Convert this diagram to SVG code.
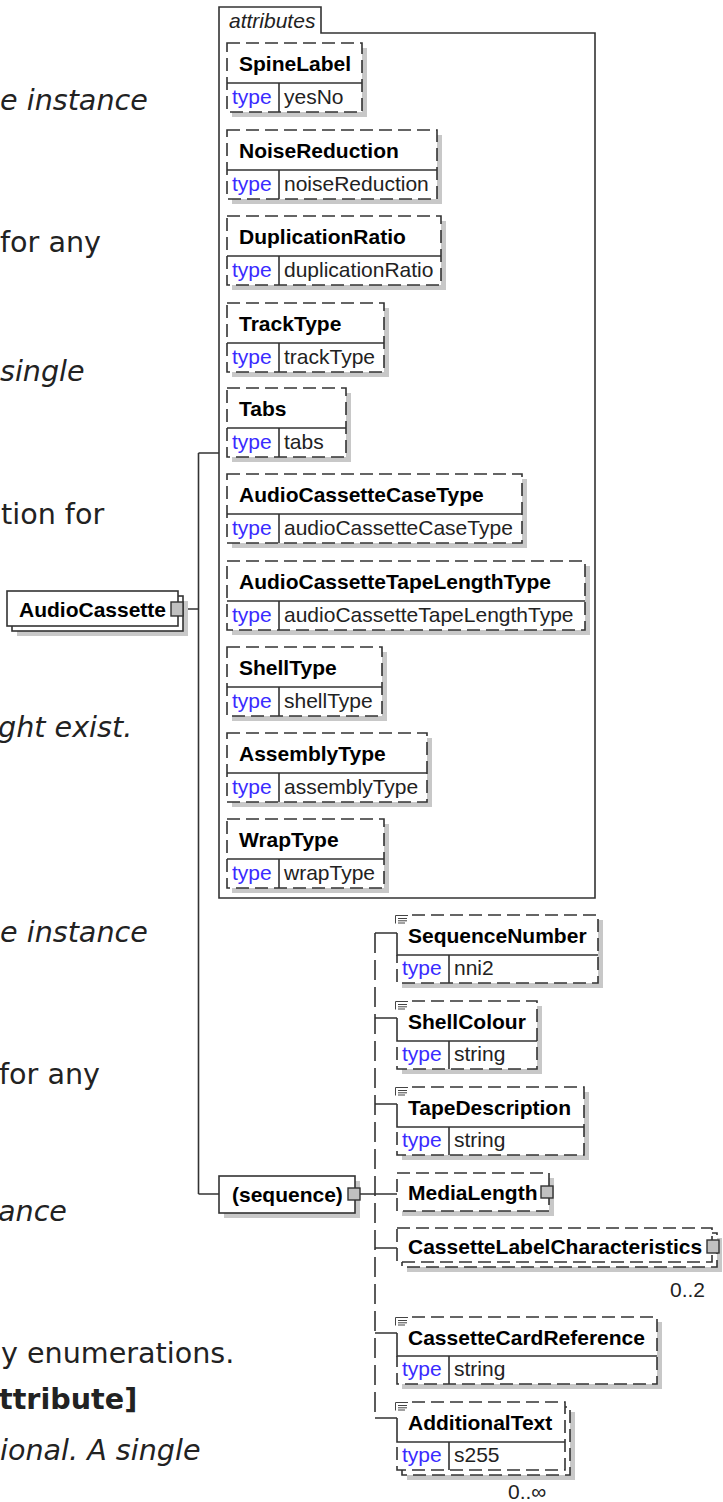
<svg xmlns="http://www.w3.org/2000/svg" width="723" height="1502" viewBox="0 0 723 1502">
<style>
.bg{fill:#fff}
.ln{fill:none;stroke:#333;stroke-width:1.6}
.ds{stroke-dasharray:13 6}
.vd{fill:none;stroke:#333;stroke-width:1.6;stroke-dasharray:20 7}
.bx{fill:#fff;stroke:#333;stroke-width:1.6}
.sh{fill:#c8c8c8}
.pl{fill:#c0c0c0;stroke:#333;stroke-width:1.4}
.nm{font-family:"Liberation Sans",Arial,sans-serif;font-size:21px;font-weight:bold;fill:#000}
.ty{font-family:"Liberation Sans",Arial,sans-serif;font-size:21px;fill:#3a2bff}
.tv{font-family:"Liberation Sans",Arial,sans-serif;font-size:21px;fill:#222}
.oc{font-family:"Liberation Sans",Arial,sans-serif;font-size:21px;fill:#222}
.at{font-family:"Liberation Sans",Arial,sans-serif;font-size:21px;font-style:italic;fill:#222}
.pg{font-family:"DejaVu Sans",Verdana,sans-serif;font-size:28.6px;fill:#222}
.it{font-style:italic}
.bd{font-weight:bold}
.ic{fill:none;stroke:#444;stroke-width:1}
</style>

<g id="page-text">
<text class="pg it" x="0" y="110">e instance</text>
<text class="pg" x="0" y="252">for any</text>
<text class="pg it" x="0" y="381">single</text>
<text class="pg" x="1" y="524">tion for</text>
<text class="pg it" x="-2" y="737">ght exist.</text>
<text class="pg it" x="0" y="942">e instance</text>
<text class="pg" x="-1" y="1084">for any</text>
<text class="pg it" x="-2" y="1221">ance</text>
<text class="pg" x="1" y="1363">y enumerations.</text>
<text class="pg bd" x="-1" y="1409">ttribute]</text>
<text class="pg it" x="0" y="1460">ional. A single</text>
</g>

<g id="connectors">
<path class="ln" d="M183,609 H198.5 M198.5,453 V1194 M198.5,453 H219 M198.5,1194 H219"/>
<path class="ln" d="M360,1194 H397"/>
<path class="vd" d="M375,933 V1418"/>
<path class="ln" d="M375,933 H397 M375,1018 H397 M375,1104 H397 M375,1248 H397 M375,1333 H397 M375,1418 H397"/>
</g>

<g id="AudioCassette">
<rect class="sh" x="17" y="601" width="171" height="35"/>
<rect class="bx" x="12" y="596" width="171" height="35"/>
<rect class="bx" x="7" y="591" width="171" height="35"/>
<text class="nm" x="19" y="617">AudioCassette</text>
<rect class="pl" x="171" y="602" width="12" height="14"/>
</g>

<g id="attributes">
<path class="ln" d="M219,898 V7 H321 V33 H595 V898 Z"/>
<text class="at" x="229" y="28">attributes</text>
</g>

<g id="attr-SpineLabel">
<rect class="sh" x="232" y="48" width="135" height="69"/>
<rect class="bx ds" x="227" y="43" width="135" height="69"/>
<path class="ln" d="M227,83 H362 M279,83 V112"/>
<text class="nm" x="239" y="71">SpineLabel</text>
<text class="ty" x="232" y="104">type</text><text class="tv" x="284" y="104">yesNo</text>
</g>

<g id="attr-NoiseReduction">
<rect class="sh" x="232" y="135" width="210" height="69"/>
<rect class="bx ds" x="227" y="130" width="210" height="69"/>
<path class="ln" d="M227,170 H437 M279,170 V199"/>
<text class="nm" x="239" y="158">NoiseReduction</text>
<text class="ty" x="232" y="191">type</text><text class="tv" x="284" y="191">noiseReduction</text>
</g>

<g id="attr-DuplicationRatio">
<rect class="sh" x="232" y="221" width="214" height="69"/>
<rect class="bx ds" x="227" y="216" width="214" height="69"/>
<path class="ln" d="M227,256 H441 M279,256 V285"/>
<text class="nm" x="239" y="244">DuplicationRatio</text>
<text class="ty" x="232" y="277">type</text><text class="tv" x="284" y="277">duplicationRatio</text>
</g>

<g id="attr-TrackType">
<rect class="sh" x="232" y="308" width="157" height="69"/>
<rect class="bx ds" x="227" y="303" width="157" height="69"/>
<path class="ln" d="M227,343 H384 M279,343 V372"/>
<text class="nm" x="239" y="331">TrackType</text>
<text class="ty" x="232" y="364">type</text><text class="tv" x="284" y="364">trackType</text>
</g>

<g id="attr-Tabs">
<rect class="sh" x="232" y="393" width="119" height="69"/>
<rect class="bx ds" x="227" y="388" width="119" height="69"/>
<path class="ln" d="M227,428 H346 M279,428 V457"/>
<text class="nm" x="239" y="416">Tabs</text>
<text class="ty" x="232" y="449">type</text><text class="tv" x="284" y="449">tabs</text>
</g>

<g id="attr-AudioCassetteCaseType">
<rect class="sh" x="232" y="479" width="295" height="69"/>
<rect class="bx ds" x="227" y="474" width="295" height="69"/>
<path class="ln" d="M227,514 H522 M279,514 V543"/>
<text class="nm" x="239" y="502">AudioCassetteCaseType</text>
<text class="ty" x="232" y="535">type</text><text class="tv" x="284" y="535">audioCassetteCaseType</text>
</g>

<g id="attr-AudioCassetteTapeLengthType">
<rect class="sh" x="232" y="566" width="358" height="69"/>
<rect class="bx ds" x="227" y="561" width="358" height="69"/>
<path class="ln" d="M227,601 H585 M279,601 V630"/>
<text class="nm" x="239" y="589">AudioCassetteTapeLengthType</text>
<text class="ty" x="232" y="622">type</text><text class="tv" x="284" y="622">audioCassetteTapeLengthType</text>
</g>

<g id="attr-ShellType">
<rect class="sh" x="232" y="652" width="155" height="69"/>
<rect class="bx ds" x="227" y="647" width="155" height="69"/>
<path class="ln" d="M227,687 H382 M279,687 V716"/>
<text class="nm" x="239" y="675">ShellType</text>
<text class="ty" x="232" y="708">type</text><text class="tv" x="284" y="708">shellType</text>
</g>

<g id="attr-AssemblyType">
<rect class="sh" x="232" y="738" width="200" height="69"/>
<rect class="bx ds" x="227" y="733" width="200" height="69"/>
<path class="ln" d="M227,773 H427 M279,773 V802"/>
<text class="nm" x="239" y="761">AssemblyType</text>
<text class="ty" x="232" y="794">type</text><text class="tv" x="284" y="794">assemblyType</text>
</g>

<g id="attr-WrapType">
<rect class="sh" x="232" y="824" width="157" height="69"/>
<rect class="bx ds" x="227" y="819" width="157" height="69"/>
<path class="ln" d="M227,859 H384 M279,859 V888"/>
<text class="nm" x="239" y="847">WrapType</text>
<text class="ty" x="232" y="880">type</text><text class="tv" x="284" y="880">wrapType</text>
</g>

<g id="sequence">
<rect class="sh" x="224" y="1181" width="136" height="37"/>
<rect class="bx" x="219" y="1176" width="136" height="37"/>
<text class="nm" x="232" y="1202">(sequence)</text>
<rect class="pl" x="348" y="1188" width="12" height="12"/>
</g>

<g id="el-SequenceNumber">
<rect class="sh" x="402" y="920" width="201" height="68"/>
<rect class="bg" x="397" y="915" width="201" height="68"/>
<path class="ln ds" d="M412,915 H598 V983 H397 V955"/>
<path class="ln" d="M397,933 V955 H598 M449,955 V983"/>
<path class="ic" d="M395.5,923.5 V915.5 H408 M398,918.5 H407 M398,920.8 H407 M398,923 H405"/>
<text class="nm" x="408" y="943">SequenceNumber</text>
<text class="ty" x="402" y="975">type</text><text class="tv" x="454" y="975">nni2</text>
</g>

<g id="el-ShellColour">
<rect class="sh" x="402" y="1006" width="140" height="68"/>
<rect class="bg" x="397" y="1001" width="140" height="68"/>
<path class="ln ds" d="M412,1001 H537 V1069 H397 V1041"/>
<path class="ln" d="M397,1018 V1041 H537 M449,1041 V1069"/>
<path class="ic" d="M395.5,1009.5 V1001.5 H408 M398,1004.5 H407 M398,1006.8 H407 M398,1009 H405"/>
<text class="nm" x="408" y="1029">ShellColour</text>
<text class="ty" x="402" y="1061">type</text><text class="tv" x="454" y="1061">string</text>
</g>

<g id="el-TapeDescription">
<rect class="sh" x="402" y="1092" width="187" height="68"/>
<rect class="bg" x="397" y="1087" width="187" height="68"/>
<path class="ln ds" d="M412,1087 H584 V1155 H397 V1127"/>
<path class="ln" d="M397,1104 V1127 H584 M449,1127 V1155"/>
<path class="ic" d="M395.5,1095.5 V1087.5 H408 M398,1090.5 H407 M398,1092.8 H407 M398,1095 H405"/>
<text class="nm" x="408" y="1115">TapeDescription</text>
<text class="ty" x="402" y="1147">type</text><text class="tv" x="454" y="1147">string</text>
</g>

<g id="el-MediaLength">
<rect class="sh" x="402" y="1178" width="152" height="38"/>
<rect class="bx ds" x="397" y="1173" width="152" height="38"/>
<text class="nm" x="408" y="1200">MediaLength</text>
<rect class="pl" x="541" y="1186" width="12" height="12"/>
</g>

<g id="el-CassetteLabelCharacteristics">
<rect class="sh" x="407" y="1238" width="315" height="34"/>
<rect class="bx ds" x="402" y="1233" width="315" height="34"/>
<rect class="bx ds" x="397" y="1228" width="315" height="34"/>
<text class="nm" x="408" y="1254">CassetteLabelCharacteristics</text>
<rect class="pl" x="707" y="1240" width="12" height="13"/>
<text class="oc" x="670" y="1297">0..2</text>
</g>

<g id="el-CassetteCardReference">
<rect class="sh" x="402" y="1322" width="260" height="67"/>
<rect class="bg" x="397" y="1317" width="260" height="67"/>
<path class="ln ds" d="M412,1317 H657 V1384 H397 V1356"/>
<path class="ln" d="M397,1333 V1356 H657 M449,1356 V1384"/>
<path class="ic" d="M395.5,1325.5 V1317.5 H408 M398,1320.5 H407 M398,1322.8 H407 M398,1325 H405"/>
<text class="nm" x="408" y="1345">CassetteCardReference</text>
<text class="ty" x="402" y="1376">type</text><text class="tv" x="454" y="1376">string</text>
</g>

<g id="el-AdditionalText">
<rect class="sh" x="407" y="1412" width="168" height="68"/>
<rect class="bx ds" x="402" y="1407" width="168" height="68"/>
<rect class="bg" x="397" y="1402" width="168" height="68"/>
<path class="ln ds" d="M412,1402 H565 V1470 H397 V1442"/>
<path class="ln" d="M397,1418 V1442 H565 M449,1442 V1470"/>
<path class="ic" d="M395.5,1410.5 V1402.5 H408 M398,1405.5 H407 M398,1407.8 H407 M398,1410 H405"/>
<text class="nm" x="408" y="1430">AdditionalText</text>
<text class="ty" x="402" y="1462">type</text><text class="tv" x="454" y="1462">s255</text>
<text class="oc" x="508" y="1499">0..∞</text>
</g>
</svg>
